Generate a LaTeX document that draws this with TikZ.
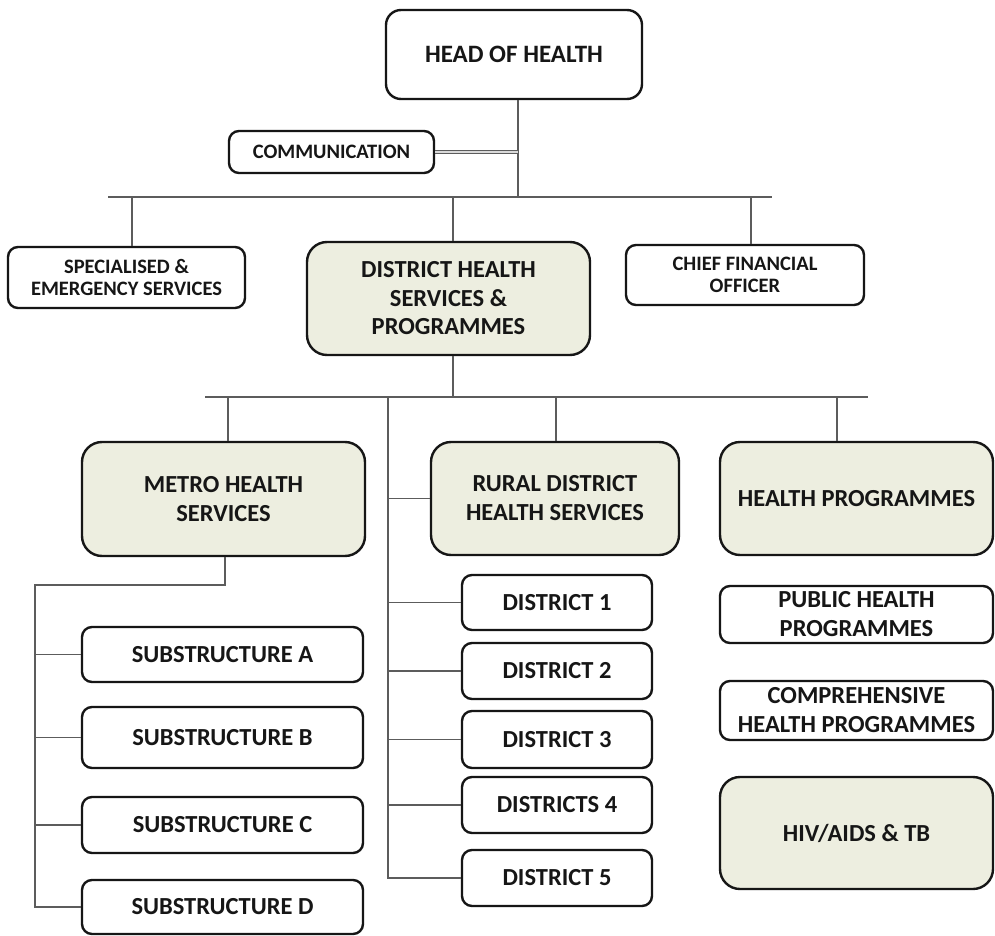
\documentclass[tikz,border=0pt]{standalone}
\usepackage{fontspec}
\setmainfont{Carlito}
\definecolor{boxfill}{RGB}{237,238,224}
\definecolor{linkgray}{RGB}{92,92,92}
\definecolor{inkcol}{RGB}{22,22,22}
\begin{document}
\begin{tikzpicture}[x=1pt,y=-1pt,
  box/.style={draw=inkcol, line width=2.4pt, rounded corners=10pt, fill=white,
    align=center, inner sep=0pt, text=inkcol,
    font=\bfseries\fontsize{24.5}{29}\selectfont},
  smallfont/.style={font=\bfseries\fontsize{20.5}{22.5}\selectfont},
  bigbox/.style={box, rounded corners=20pt, fill=boxfill},
  link/.style={draw=linkgray, line width=1.9pt},
  dlink/.style={draw=linkgray, line width=1.3pt, double=white!85!black, double distance=1.4pt}]

\useasboundingbox (0,0) rectangle (995,936);
\fill[white] (0,0) rectangle (995,936);

% ---------- top level ----------
\node[box, rounded corners=15pt, font=\bfseries\fontsize{25}{29}\selectfont, minimum width=256pt, minimum height=89pt] (head) at (514,54.5) {HEAD OF HEALTH};
\node[box, smallfont, minimum width=205pt, minimum height=42pt] (comm) at (331.5,152) {COMMUNICATION};

\node[box, smallfont, minimum width=237pt, minimum height=61pt] (spec) at (126.5,277.5) {SPECIALISED \&\\EMERGENCY SERVICES};
\node[bigbox, font=\bfseries\fontsize{24.5}{28.5}\selectfont, minimum width=283pt, minimum height=113pt] (dhs) at (448.5,298.5) {DISTRICT HEALTH\\SERVICES \&\\PROGRAMMES};
\node[box, smallfont, minimum width=238pt, minimum height=60pt] (cfo) at (745,275) {CHIEF FINANCIAL\\OFFICER};

% ---------- second level ----------
\node[bigbox, minimum width=283pt, minimum height=114pt] (metro) at (223.5,499) {METRO HEALTH\\SERVICES};
\node[bigbox, minimum width=248pt, minimum height=113pt] (rural) at (555,498.5) {RURAL DISTRICT\\HEALTH SERVICES};
\node[bigbox, minimum width=273pt, minimum height=113pt] (hp) at (856.5,498.5) {HEALTH PROGRAMMES};

% ---------- metro substructures ----------
\node[box, minimum width=281pt, minimum height=55pt] (subA) at (222.5,654.5) {SUBSTRUCTURE A};
\node[box, minimum width=281pt, minimum height=61pt] (subB) at (222.5,737.5) {SUBSTRUCTURE B};
\node[box, minimum width=281pt, minimum height=56pt] (subC) at (222.5,825) {SUBSTRUCTURE C};
\node[box, minimum width=281pt, minimum height=54pt] (subD) at (222.5,907) {SUBSTRUCTURE D};

% ---------- rural districts ----------
\node[box, minimum width=190pt, minimum height=55pt] (d1) at (557,602.5) {DISTRICT 1};
\node[box, minimum width=190pt, minimum height=56pt] (d2) at (557,671) {DISTRICT 2};
\node[box, minimum width=190pt, minimum height=57pt] (d3) at (557,739.5) {DISTRICT 3};
\node[box, minimum width=190pt, minimum height=56pt] (d4) at (557,805) {DISTRICTS 4};
\node[box, minimum width=190pt, minimum height=56pt] (d5) at (557,878) {DISTRICT 5};

% ---------- programmes ----------
\node[box, minimum width=273pt, minimum height=57pt] (php) at (856.5,614.5) {PUBLIC HEALTH\\PROGRAMMES};
\node[box, minimum width=273pt, minimum height=59pt] (chp) at (856.5,710.5) {COMPREHENSIVE\\HEALTH PROGRAMMES};
\node[bigbox, minimum width=273pt, minimum height=112pt] (hiv) at (856.5,833) {HIV/AIDS \& TB};

% ---------- connectors: head of health ----------
\coordinate (busA) at (518,197);
\coordinate (busL) at (108,197);
\coordinate (busR) at (772,197);
\coordinate (tSpec) at (132,197);
\coordinate (tDhs) at (453,197);
\coordinate (tCfo) at (751,197);

\draw[link] (head.south -| busA) -- (busA);
\draw[link] (busL) -- (busR);
\draw[dlink] (comm.east) -- (comm.east -| busA);
\draw[link] (tSpec) -- (tSpec |- spec.north);
\draw[link] (tDhs) -- (tDhs |- dhs.north);
\draw[link] (tCfo) -- (tCfo |- cfo.north);

% ---------- connectors: district health services ----------
\coordinate (busB) at (453,397);
\coordinate (busBL) at (205,397);
\coordinate (busBR) at (868,397);
\coordinate (tMetro) at (228,397);
\coordinate (tRural) at (556,397);
\coordinate (tHp) at (837,397);
\coordinate (tTrunk) at (388,397);

\draw[link] (dhs.south -| busB) -- (busB);
\draw[link] (busBL) -- (busBR);
\draw[link] (tMetro) -- (tMetro |- metro.north);
\draw[link] (tRural) -- (tRural |- rural.north);
\draw[link] (tHp) -- (tHp |- hp.north);

% rural trunk and district branches
\draw[link] (tTrunk) |- (d5.west);
\foreach \n in {rural,d1,d2,d3,d4}
  \draw[link] (tTrunk |- \n.west) -- (\n.west);

% metro trunk and substructure branches
\coordinate (mDrop) at (225,585);
\coordinate (mCorner) at (35,585);
\draw[link] (mDrop |- metro.south) -- (mDrop) -- (mCorner) |- (subD.west);
\foreach \n in {subA,subB,subC}
  \draw[link] (mCorner |- \n.west) -- (\n.west);

\end{tikzpicture}
\end{document}
